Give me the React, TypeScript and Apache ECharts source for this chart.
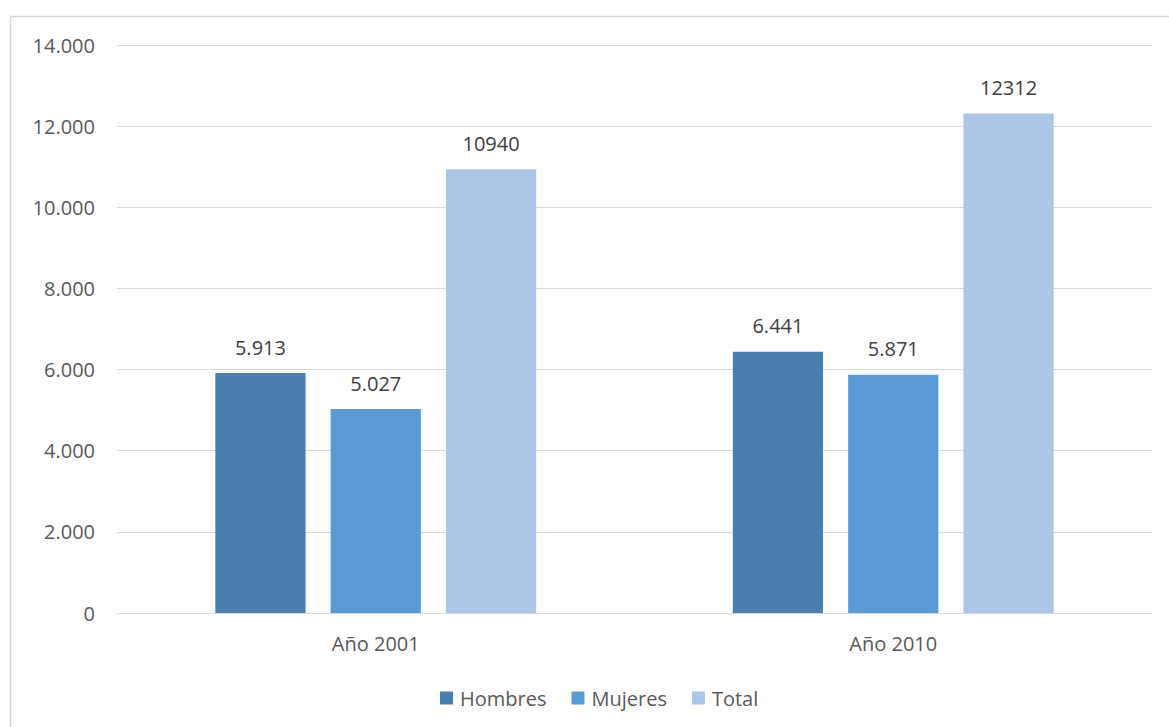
import React, { useEffect, useRef } from "react";
import * as echarts from "echarts";

const categories = ["Año 2001", "Año 2010"];
const hombres = [5913, 6441];
const mujeres = [5027, 5871];
const total = [10940, 12312];
const seriesNames = ["Hombres", "Mujeres", "Total"];

const FONT = "'Open Sans', 'Noto Sans', sans-serif";

function dotThousands(v: number): string {
  return String(v).replace(/\B(?=(\d{3})+(?!\d))/g, ".");
}

export default function App() {
  const ref = useRef<HTMLDivElement>(null);
  useEffect(() => {
    if (!ref.current) return;
    const chart = echarts.init(ref.current, null, { renderer: "svg" });
    const labelBase = {
      show: true,
      position: "top",
      distance: 16,
      color: "#404040",
      fontSize: 20,
      fontFamily: FONT,
    };
    chart.setOption({
      animation: false,
      backgroundColor: "#ffffff",
      textStyle: { fontFamily: FONT },
      graphic: [
        {
          type: "rect",
          shape: { x: 10.5, y: 16.5, width: 1400, height: 900 },
          style: { fill: "none", stroke: "#D9D9D9", lineWidth: 1.5 },
          silent: true,
        },
      ],
      grid: { left: 117, right: 17, top: 45, bottom: 114, containLabel: false },
      legend: {
        data: seriesNames,
        left: 435,
        top: 683,
        itemWidth: 13,
        itemHeight: 13,
        itemGap: 25,
        icon: "rect",
        textStyle: { color: "#595959", fontSize: 20, fontFamily: FONT, padding: [0, 0, 0, 2] },
      },
      xAxis: {
        type: "category",
        data: categories,
        axisLine: { show: true, lineStyle: { color: "#D9D9D9", width: 1 } },
        axisTick: { show: false },
        axisLabel: { color: "#595959", fontSize: 20, fontFamily: FONT, margin: 20 },
      },
      yAxis: {
        type: "value",
        min: 0,
        max: 14000,
        interval: 2000,
        axisLine: { show: false },
        axisTick: { show: false },
        splitLine: { lineStyle: { color: "#D9D9D9", width: 1 } },
        axisLabel: {
          color: "#595959",
          fontSize: 20,
          fontFamily: FONT,
          margin: 22,
          formatter: (v: number) => dotThousands(v),
        },
      },
      series: [
        {
          name: seriesNames[0],
          type: "bar",
          data: hombres,
          barGap: "27.8%",
          barCategoryGap: "38%",
          itemStyle: { color: "#4A7EAF" },
          label: { ...labelBase, formatter: (p: any) => dotThousands(p.value) },
        },
        {
          name: seriesNames[1],
          type: "bar",
          data: mujeres,
          barGap: "27.8%",
          barCategoryGap: "38%",
          itemStyle: { color: "#5B9BD5" },
          label: { ...labelBase, formatter: (p: any) => dotThousands(p.value) },
        },
        {
          name: seriesNames[2],
          type: "bar",
          data: total,
          barGap: "27.8%",
          barCategoryGap: "38%",
          itemStyle: { color: "#ADC5E6" },
          label: { ...labelBase, formatter: (p: any) => String(p.value) },
        },
      ],
    });
    return () => chart.dispose();
  }, []);
  return (
    <div
      ref={ref}
      style={{ position: "fixed", left: 0, top: 0, width: 1169, height: 727 }}
    />
  );
}
